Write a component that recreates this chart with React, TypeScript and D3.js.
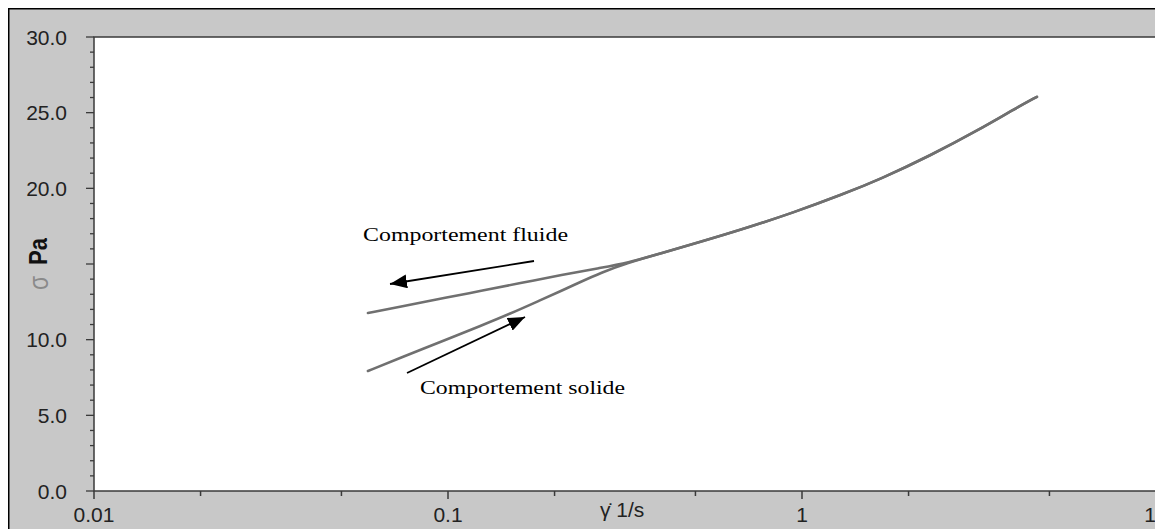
import React from "react";
import * as d3 from "d3";

// Shear-rate ramp down (fluid behaviour) – upper branch
const fluidRate = [4.61, 3.94, 3.18, 2.3, 1.661, 1.306, 0.944, 0.681, 0.515, 0.397, 0.321, 0.27, 0.21, 0.16, 0.123, 0.1, 0.0731, 0.0594];
const fluidStress = [26.05, 25.18, 23.91, 22.15, 20.6, 19.61, 18.39, 17.3, 16.45, 15.69, 15.07, 14.75, 14.28, 13.74, 13.21, 12.8, 12.17, 11.76];

// Shear-rate ramp up (solid behaviour) – lower branch
const solidRate = [0.0594, 0.0731, 0.1, 0.123, 0.15, 0.182, 0.21, 0.236, 0.27, 0.321, 0.397, 0.515, 0.681, 0.944, 1.306, 1.661, 2.3, 3.18, 3.94, 4.61];
const solidStress = [7.93, 8.78, 10.05, 10.89, 11.72, 12.6, 13.25, 13.8, 14.42, 15.07, 15.69, 16.45, 17.3, 18.39, 19.61, 20.6, 22.15, 23.91, 25.18, 26.05];

const xMajorTicks = [0.01, 0.1, 1, 10];
const xMajorLabels = ["0.01", "0.1", "1", "10"];
const xMinorTicks = [0.02, 0.05, 0.2, 0.5, 2, 5];
const yMajorTicks = [0, 5, 10, 15, 20, 25, 30];
const yMajorLabels = ["0.0", "5.0", "10.0", "", "20.0", "25.0", "30.0"];
const yMinorTicks = d3.range(0, 31).filter((v) => v % 5 !== 0);

const W = 1155;
const H = 521;
const plot = { left: 86, right: 1148, top: 29, bottom: 483 };

export default function App() {
  const x = d3.scaleLog().domain([0.01, 10]).range([plot.left, plot.right]);
  const y = d3.scaleLinear().domain([0, 30]).range([plot.bottom, plot.top]);

  const line = d3
    .line<[number, number]>()
    .x((d) => x(d[0]))
    .y((d) => y(d[1]))
    .curve(d3.curveBasis);

  const fluidPts = fluidRate.map((r, i) => [r, fluidStress[i]] as [number, number]).sort((a, b) => a[0] - b[0]);
  const solidPts = solidRate.map((r, i) => [r, solidStress[i]] as [number, number]);

  const axisColor = "#3a3a3a";
  const sans = "'Liberation Sans', Arial, sans-serif";
  const serif = "'Liberation Serif', 'Times New Roman', serif";

  return (
    <svg width={W} height={H} style={{ display: "block" }} xmlns="http://www.w3.org/2000/svg">
      <defs>
        <marker id="arrow" markerUnits="userSpaceOnUse" markerWidth={18} markerHeight={14} refX={17} refY={7} orient="auto">
          <path d="M0,0 L17,7 L0,14 Z" fill="#000" />
        </marker>
      </defs>
      <rect x={0.75} y={0.75} width={W + 20} height={H + 20} fill="#c8c8c8" stroke="#000" strokeWidth={1.5} />
      <rect x={plot.left} y={plot.top} width={plot.right - plot.left} height={plot.bottom - plot.top} fill="#fff" stroke={axisColor} strokeWidth={1.5} />

      {/* Y ticks */}
      {yMajorTicks.map((v, i) => (
        <g key={"ym" + v}>
          <line x1={plot.left - 8} x2={plot.left} y1={y(v)} y2={y(v)} stroke={axisColor} strokeWidth={1.3} />
          <text x={59} y={y(v)} dy="0.36em" textAnchor="end" fontFamily={sans} fontSize={21} fill="#222">
            {yMajorLabels[i]}
          </text>
        </g>
      ))}
      {yMinorTicks.map((v) => (
        <line key={"yn" + v} x1={plot.left - 4} x2={plot.left} y1={y(v)} y2={y(v)} stroke={axisColor} strokeWidth={1.3} />
      ))}

      {/* X ticks */}
      {xMajorTicks.map((v, i) => (
        <g key={"xm" + v}>
          <line x1={x(v)} x2={x(v)} y1={plot.bottom} y2={plot.bottom + 8} stroke={axisColor} strokeWidth={1.5} />
          <text x={x(v)} y={514} textAnchor="middle" fontFamily={sans} fontSize={21} fill="#222">
            {xMajorLabels[i]}
          </text>
        </g>
      ))}
      {xMinorTicks.map((v) => (
        <line key={"xn" + v} x1={x(v)} x2={x(v)} y1={plot.bottom} y2={plot.bottom + 5} stroke={axisColor} strokeWidth={1.5} />
      ))}

      {/* Axis titles */}
      <text x={592} y={509} fontFamily={sans} fontSize={21} fill="#222">
        {"\u03B3\u0307 1/s"}
      </text>
      <text transform="translate(40,275) rotate(-90) scale(1,1.2)" textAnchor="middle" fontFamily={sans} fontSize={23} fill="#8a8a8a">
        σ
      </text>
      <text transform="translate(39,243.5) rotate(-90) scale(1,1.2)" textAnchor="middle" fontFamily={sans} fontSize={22} fontWeight="bold" fill="#111">
        Pa
      </text>

      {/* Curves */}
      <path d={line(fluidPts) || ""} fill="none" stroke="#707070" strokeWidth={2.6} strokeLinejoin="round" strokeLinecap="round" />
      <path d={line(solidPts) || ""} fill="none" stroke="#707070" strokeWidth={2.6} strokeLinejoin="round" strokeLinecap="round" />

      {/* Annotations */}
      <line x1={526} y1={253} x2={382} y2={276} stroke="#000" strokeWidth={1.8} markerEnd="url(#arrow)" />
      <line x1={399} y1={365} x2={517} y2={309} stroke="#000" strokeWidth={1.8} markerEnd="url(#arrow)" />
      <text x={355} y={233} fontFamily={serif} fontSize={18.5} textLength={205} lengthAdjust="spacingAndGlyphs" fill="#000">
        Comportement fluide
      </text>
      <text x={412} y={386} fontFamily={serif} fontSize={18.5} textLength={205} lengthAdjust="spacingAndGlyphs" fill="#000">
        Comportement solide
      </text>
    </svg>
  );
}
